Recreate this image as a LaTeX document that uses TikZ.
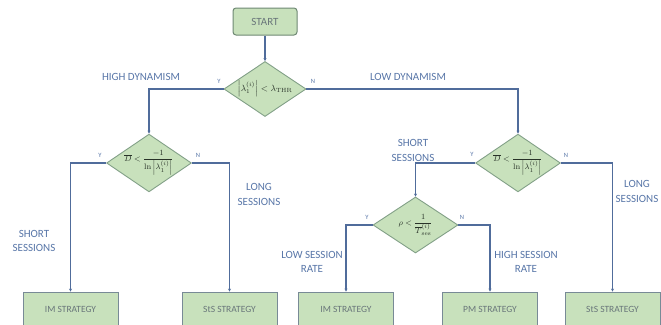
\documentclass[tikz,border=0pt]{standalone}
\usepackage{amsmath}
\usepackage[no-math]{fontspec}
\setmainfont{Carlito}
\usetikzlibrary{shapes.geometric,arrows.meta}
\definecolor{linec}{RGB}{80,108,155}
\definecolor{labc}{RGB}{88,118,168}
\definecolor{fillg}{RGB}{200,225,188}
\definecolor{bordg}{RGB}{130,160,135}
\definecolor{boxb}{RGB}{120,138,150}
\definecolor{boxt}{RGB}{105,118,122}
\definecolor{mathc}{RGB}{40,50,40}
\tikzset{
  conn/.style={draw=linec, line width=1.1pt, -{Stealth[length=3pt,width=3pt]}},
  dec/.style={diamond, aspect=1.47, fill=fillg, draw=bordg, line width=0.9pt, inner sep=0pt, minimum width=84pt, minimum height=57pt, text=mathc, font={\fontsize{8}{9.5}\selectfont}},
  strat/.style={rectangle, fill=fillg, draw=boxb, line width=0.9pt, minimum width=95pt, minimum height=34pt, inner sep=0pt, text=boxt, font={\fontsize{9.5}{11}\selectfont}},
  startbox/.style={rectangle, rounded corners=3pt, fill=fillg, draw=bordg!85!black, line width=1pt, minimum width=64pt, minimum height=27pt, text=boxt, font={\fontsize{11}{13}\selectfont}},
  lab/.style={text=labc, align=center, font={\fontsize{11}{14.5}\selectfont}, inner sep=0pt},
  yn/.style={text=labc, font={\fontsize{6.5}{8}\selectfont}, inner sep=0pt}
}
\begin{document}
\begin{tikzpicture}[x=1pt,y=-1pt]
\clip (0,0) rectangle (661,324);
\fill[white] (0,0) rectangle (661,324);
% nodes
\node[startbox] (start) at (265,21.5) {START};
\node[dec, minimum width=82pt, minimum height=55pt, font={\fontsize{9}{10}\selectfont}] (d1) at (265,89) {$\left|\lambda_1^{(i)}\right| < \lambda_{\mathrm{THR}}$};
\node[dec] (d2) at (149,163) {$\overline{D} < \dfrac{-1}{\ln\left|\lambda_1^{(i)}\right|}$};
\node[dec] (d3) at (518,163) {$\overline{D} < \dfrac{-1}{\ln\left|\lambda_1^{(i)}\right|}$};
\node[dec, minimum width=85pt, minimum height=56pt] (d4) at (415.5,225) {$\rho < \dfrac{1}{\overline{T}^{(i)}_{\mathrm{ses}}}$};
\node[strat] (b1) at (70.5,309) {IM STRATEGY};
\node[strat] (b2) at (229.5,309) {StS STRATEGY};
\node[strat] (b3) at (346,309) {IM STRATEGY};
\node[strat] (b4) at (490,309) {PM STRATEGY};
\node[strat] (b5) at (612.5,309) {StS STRATEGY};
% connectors
\draw[conn] (start) -- (d1);
\draw[conn] (d1.west) -| (d2.north);
\draw[conn] (d1.east) -| (d3.north);
\draw[conn] (d2.west) -| (b1.north);
\draw[conn] (d2.east) -| (b2.north);
\draw[conn] (d3.west) -| (d4.north);
\draw[conn] (d3.east) -| (b5.north);
\draw[conn] (d4.west) -| (b3.north);
\draw[conn] (d4.east) -| (b4.north);
% labels
\node[lab] (l1) at (141,77) {HIGH DYNAMISM};
\node[lab] (l2) at (408,77) {LOW DYNAMISM};
\node[yn] (y1) at (219,81) {Y};
\node[yn] (n1) at (313,81) {N};
\node[yn] (y2) at (100,155) {Y};
\node[yn] (n2) at (198,155) {N};
\node[yn] (y3) at (472,154) {Y};
\node[yn] (n3) at (566,155) {N};
\node[yn] (y4) at (367,217) {Y};
\node[yn] (n4) at (462,217) {N};
\node[lab] (l3) at (34,241) {SHORT\\SESSIONS};
\node[lab] (l4) at (259,194.5) {LONG\\SESSIONS};
\node[lab] (l5) at (413,150.5) {SHORT\\SESSIONS};
\node[lab] (l6) at (637,191.5) {LONG\\SESSIONS};
\node[lab] (l7) at (312,262) {LOW SESSION\\RATE};
\node[lab] (l8) at (526,262) {HIGH SESSION\\RATE};
\end{tikzpicture}
\end{document}
